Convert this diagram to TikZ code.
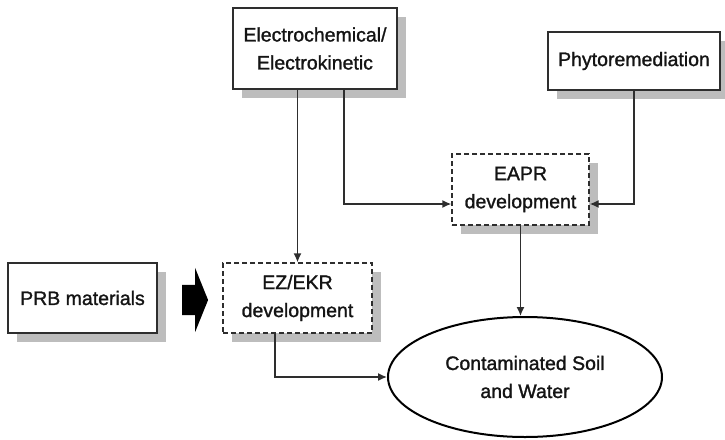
\documentclass[tikz,border=0pt]{standalone}
\usepackage{fontspec}
\setmainfont[FakeBold=1.3]{Liberation Sans}
\usetikzlibrary{arrows.meta,calc,positioning,shapes.geometric,shapes.arrows,shadows}
\definecolor{figink}{HTML}{141414}
\definecolor{figline}{HTML}{2E2E2E}
\definecolor{figshade}{HTML}{BDBDBD}
\tikzset{
  figtext/.style={font=\fontsize{19.5}{28}\selectfont, text=figink, align=center},
  solidbox/.style={figtext, draw=figline, fill=white, line width=1.4pt, inner sep=0pt,
    drop shadow={shadow xshift=8.5pt, shadow yshift=-9pt, fill=figshade, opacity=1}},
  dashbox/.style={solidbox, dash pattern=on 5pt off 3pt},
  soilnode/.style={figtext, ellipse, draw=black, line width=2pt, fill=white, inner sep=0pt},
  flow/.style={-{Latex[length=9pt,width=8pt]}, draw=figline, line width=1.4pt},
  pusharrow/.style={single arrow, fill=black, draw=none, inner xsep=0pt, inner ysep=15pt,
    minimum height=26pt, single arrow head extend=17pt, single arrow tip angle=136}
}
\begin{document}
\begin{tikzpicture}[x=1pt,y=-1pt]
  \useasboundingbox (0,0) rectangle (725,439);
  \node[solidbox, minimum width=164pt, minimum height=81pt] (echem) at (315,48.5)
    {Electrochemical/\\Electrokinetic};
  \node[solidbox, minimum width=172pt, minimum height=58pt] (phyto) at (634,61) {Phytoremediation};
  \node[dashbox, minimum width=137pt, minimum height=71pt] (eapr) at (520.5,189.5) {EAPR\\development};
  \node[solidbox, minimum width=149pt, minimum height=70pt] (prb) at (82.5,298) {PRB materials};
  \node[dashbox, minimum width=149pt, minimum height=70pt] (ezekr) at (297.5,298) {EZ/EKR\\development};
  \node[soilnode, minimum width=274pt, minimum height=120pt] (soil) at (525,377)
    {Contaminated Soil\\and Water};
  \node[pusharrow] (push) at (192,300) {};

  \coordinate (eaprin) at ([yshift=-14.5pt]eapr.center);
  \draw[flow] (echem.south -| ezekr.north) -- (ezekr.north);
  \draw[flow] ([xshift=29pt]echem.south) |- (eapr.west |- eaprin);
  \draw[flow] (phyto.south) |- (eapr.east |- eaprin);
  \draw[flow] (eapr.south) -- (eapr.south |- soil.north);
  \draw[flow] ([xshift=-22.5pt]ezekr.south) |- (soil.west);
\end{tikzpicture}
\end{document}
